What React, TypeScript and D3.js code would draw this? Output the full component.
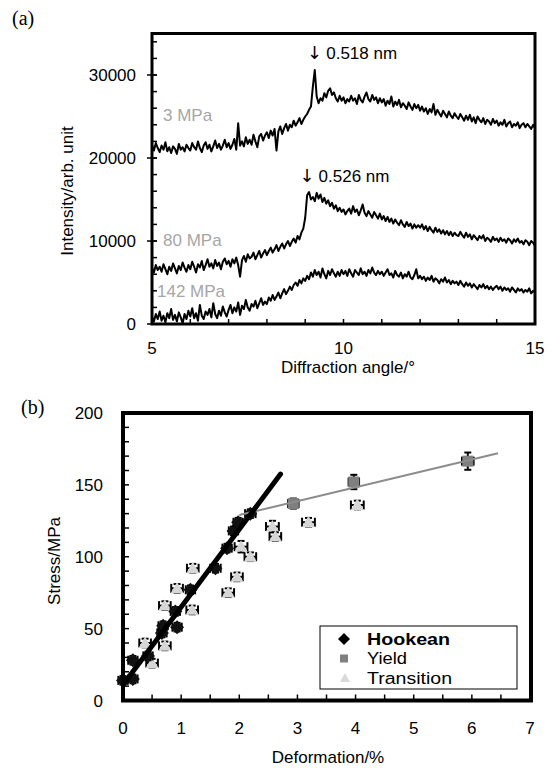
import React from 'react';
import * as d3 from 'd3';

// ---------- Panel (a): XRD spectra ----------
const angleStart = 5;
const angleStep = 0.05;

const intensity3MPa = [
  21600, 20900, 21800, 21200, 20700, 21500, 21000, 21900, 20800, 21300, 20600, 21400, 21100, 20500, 21700, 21000, 21300, 20800, 21600, 21200,
  20900, 21800, 21300, 21000, 22000, 21200, 20700, 21500, 21900, 21100, 21600, 20800, 21400, 22100, 21200, 21700, 21000, 21500, 22200, 21300,
  21800, 21100, 21600, 22300, 21000, 24200, 21500, 22000, 21400, 22500, 21700, 22200, 21600, 22800, 22000, 21300, 22600, 22900, 22100, 22700,
  23100, 22400, 23300, 22700, 23500, 20900, 23200, 23800, 22900, 23600, 24100, 23300, 24000, 23700, 24500, 23900, 24300, 24800, 24100, 24600,
  25000, 25300, 25800, 26200, 28600, 30600, 27400, 26600, 27200, 26900, 27800, 27300, 28100, 28400, 27600, 27900, 27200, 26800, 27500, 26900,
  27300, 26600, 27100, 26800, 27500, 26900, 27200, 26500, 27600, 27000, 26700, 27400, 27900, 27100, 26800, 27600, 27000, 27300, 26600, 27200,
  26700, 27100, 26300, 26900, 26500, 27400, 26200, 26800, 26400, 27000, 26100, 26600, 26300, 25900, 26700, 26200, 25800, 26500, 26000, 26400,
  25700, 26200, 25600, 26000, 25300, 25900, 25500, 26500, 25200, 25800, 25400, 25000, 25700, 25300, 24900, 25600, 25100, 24800, 25400, 25000,
  24700, 25300, 24900, 24500, 25100, 24600, 25200, 24400, 24900, 24200, 25000, 24600, 24300, 24800, 24100, 24600, 24400, 24000, 24700, 24200,
  24500, 23900, 24300, 24000, 24600, 23800, 24200, 24400, 23700, 24100, 23900, 24300, 23600, 24000, 24200, 23700, 24100, 23800, 23500, 24000, 23600,
];

const intensity80MPa = [
  6800, 6200, 7100, 6500, 6900, 6300, 7200, 6600, 6000, 6900, 6400, 7300, 6700, 6100, 7000, 6500, 7400, 6800, 6300, 7100,
  6600, 7500, 6900, 6200, 7200, 6800, 7600, 6500, 7100, 7800, 6900, 7300, 6700, 7700, 7000, 7400, 6600, 7500, 7900, 7200,
  7600, 6900, 7800, 7300, 8000, 7100, 5700, 7700, 8200, 7500, 8400, 7900, 8100, 8600, 7800, 8300, 8800, 8000, 8500, 8900,
  8300, 8800, 9200, 8600, 9000, 9500, 8800, 9300, 9700, 9100, 9600, 10000, 9400, 9900, 10300, 9800, 10600, 10200, 11000, 11500,
  12800, 15500, 15900, 15000, 15300, 14800, 15800, 15100, 15600, 14700, 15200, 14500, 14900, 14200, 14600, 13900, 14300, 13600, 14000, 13500,
  13800, 13200, 13600, 13900, 13300, 14200, 13500, 13800, 13100, 13700, 14400, 13400, 13000, 13600, 13200, 12800, 13500, 13100, 12700, 13300,
  12600, 13000, 12400, 12900, 12300, 12700, 12100, 12600, 12200, 11900, 12500, 12000, 11700, 12300, 11800, 12100, 11500, 12000, 11600, 11900,
  11600, 12000, 11400, 11800, 11200, 11700, 11300, 11000, 11600, 11100, 11400, 10900, 11300, 10800, 11200, 10700, 11100, 10600, 11000, 10700,
  10600, 11100, 10700, 10400, 11000, 10500, 10800, 10200, 10700, 10400, 10100, 10600, 10300, 10700, 10000, 10400, 10200, 9900, 10500, 10100,
  10300, 9900, 10400, 10000, 10200, 9800, 10300, 10100, 9700, 10200, 9900, 10300, 9800, 10000, 9600, 10100, 9900, 9500, 10000, 9800, 9400,
];

const intensity142MPa = [
  900, 300, 1200, 600, 1500, 400, 1000, 200, 1300, 700, 1800, 500, 1100, 300, 1400, 800, 100, 1200, 600, 1600,
  900, 1900, 700, 1300, 400, 2300, 1000, 600, 1500, 1100, 1800, 800, 2500, 1200, 700, 1600, 1000, 2100, 1400, 900,
  1700, 2300, 1300, 2000, 1500, 2600, 1100, 2200, 1800, 2900, 2000, 1600, 2400, 2100, 2800, 1900, 2500, 3100, 2300, 2700,
  2400, 3200, 2800, 3500, 2900, 3300, 3800, 3100, 3700, 4200, 3600, 4000, 4500, 4100, 4700, 5000, 4600, 5300, 4900, 5500,
  5200, 5800, 5400, 6200, 5700, 6500, 5900, 6300, 5600, 6700, 6000, 5500, 6400, 5900, 6600, 6100, 5700, 6300, 5800, 6500,
  6000, 6400, 5800, 6600, 6100, 5700, 6500, 6200, 5900, 6700, 6000, 6300, 5800, 6500, 6100, 6800, 6200, 5900, 6400, 6000,
  6300, 5800, 6200, 6600, 5900, 6100, 5600, 6400, 5900, 5700, 6200, 5500, 6000, 5700, 6300, 5600, 5400, 5900, 6600, 5500,
  5800, 5400, 5700, 5200, 5600, 5300, 5800, 5100, 5500, 5300, 4900, 5400, 5100, 5600, 5000, 5300, 4800, 5200, 4900, 5100,
  4700, 5200, 4800, 4500, 5000, 4600, 4900, 4400, 4800, 4500, 4200, 4700, 4400, 4800, 4300, 4600, 4200, 4500, 4100, 4400,
  4600, 4200, 4500, 4000, 4400, 4100, 4300, 3900, 4400, 4100, 3800, 4300, 4000, 4200, 3800, 4100, 3900, 4300, 3700, 4000, 3800,
];

const spectraLabels = ['3 MPa', '80 MPa', '142 MPa'];
const spectraLabelValues = [24500, 9400, 3300];
const peakLabels = ['0.518 nm', '0.526 nm'];
const peakLabelPos = [[9.05, 31900], [8.85, 17100]];
const xTicksA = [5, 10, 15];
const xMinorA = d3.range(5, 15.01, 1);
const yTicksA = [0, 10000, 20000, 30000];
const yMinorA = d3.range(0, 35001, 2000);

// ---------- Panel (b): stress vs deformation ----------
// [deformation %, stress MPa, x error, y error]
const hookean = [
  [0.0, 14, 0.08, 3], [0.17, 15, 0.08, 3], [0.17, 28, 0.08, 3], [0.43, 31, 0.08, 3],
  [0.67, 47, 0.08, 3], [0.69, 52, 0.08, 3], [0.93, 51, 0.08, 3], [0.9, 62, 0.08, 3],
  [1.16, 77, 0.08, 3], [1.59, 92, 0.09, 3], [1.79, 106, 0.08, 3], [1.9, 118, 0.08, 3],
  [1.98, 124, 0.08, 3], [2.19, 130, 0.09, 3],
];
const yieldPts = [
  [2.93, 137, 0.09, 3.5], [3.97, 152, 0.09, 5], [5.93, 166.5, 0.1, 6],
];
const transition = [
  [0.38, 40, 0.1, 3], [0.5, 26, 0.1, 3], [0.72, 38, 0.1, 3], [0.72, 66, 0.1, 3],
  [0.93, 78, 0.1, 3], [1.19, 63, 0.1, 3], [1.2, 92, 0.1, 3], [1.81, 75, 0.1, 3],
  [1.96, 86, 0.1, 3], [2.03, 107, 0.11, 4], [2.19, 100, 0.1, 3], [2.57, 121, 0.11, 4],
  [2.62, 114, 0.1, 3], [3.19, 124, 0.11, 3], [4.03, 136, 0.11, 3],
];
const hookeanFit = [[0.02, 12], [2.71, 157.5]];
const yieldFit = [[2.0, 129], [6.45, 172]];
const xTicksB = d3.range(0, 7.01, 1);
const xMinorB = d3.range(0, 7.01, 0.5);
const yTicksB = [0, 50, 100, 150, 200];
const yMinorB = d3.range(0, 201, 10);
const legendItems = ['Hookean', 'Yield', 'Transition'];
const legendTextWidths = [83, 40, 85];

const SANS = 'Liberation Sans, Arial, Helvetica, sans-serif';
const SERIF = 'Liberation Serif, Times New Roman, serif';

function ErrorBar({ cx, cy, x0, x1, y0, y1 }: any) {
  const c = 4.5;
  return (
    <g stroke="#000" strokeWidth={2} fill="none">
      <line x1={x0} y1={cy} x2={x1} y2={cy} />
      <line x1={x0} y1={cy - c} x2={x0} y2={cy + c} />
      <line x1={x1} y1={cy - c} x2={x1} y2={cy + c} />
      <line x1={cx} y1={y0} x2={cx} y2={y1} />
      <line x1={cx - 3.5} y1={y0} x2={cx + 3.5} y2={y0} />
      <line x1={cx - 3.5} y1={y1} x2={cx + 3.5} y2={y1} />
    </g>
  );
}

function Marker({ kind, x, y }: any) {
  if (kind === 'diamond') {
    const s = 7;
    return <path d={`M${x},${y - s}L${x + s},${y}L${x},${y + s}L${x - s},${y}Z`} fill="#111" />;
  }
  if (kind === 'square') {
    const s = 5.5;
    return <rect x={x - s} y={y - s} width={2 * s} height={2 * s} fill="#7f7f7f" />;
  }
  const s = 6.5;
  return <path d={`M${x},${y - s}L${x + s},${y + s * 0.75}L${x - s},${y + s * 0.75}Z`} fill="#d6d6d6" />;
}

export default function App() {
  // Panel (a)
  const xA = d3.scaleLinear().domain([5, 15]).range([152, 535]);
  const yA = d3.scaleLinear().domain([0, 35000]).range([324, 33.5]);
  const lineA = d3
    .line<number>()
    .x((_, i) => xA(angleStart + i * angleStep))
    .y((d) => yA(d));
  const spectra = [intensity3MPa, intensity80MPa, intensity142MPa];

  // Panel (b)
  const xB = d3.scaleLinear().domain([0, 7]).range([123, 530]);
  const yB = d3.scaleLinear().domain([0, 200]).range([700.5, 413]);
  const lineB = d3
    .line<number[]>()
    .x((d) => xB(d[0]))
    .y((d) => yB(d[1]));

  const renderPoints = (pts: number[][], kind: string) =>
    pts.map((p, i) => (
      <g key={kind + i}>
        <ErrorBar
          cx={xB(p[0])}
          cy={yB(p[1])}
          x0={xB(p[0] - p[2])}
          x1={xB(p[0] + p[2])}
          y0={yB(p[1] + p[3])}
          y1={yB(p[1] - p[3])}
        />
        <Marker kind={kind} x={xB(p[0])} y={yB(p[1])} />
      </g>
    ));

  const [ax0, ax1] = xA.range();
  const [ay0, ay1] = yA.range();
  const [bx0, bx1] = xB.range();
  const [by0, by1] = yB.range();

  return (
    <svg
      width={554}
      height={768}
      style={{ position: 'absolute', left: 0, top: 0, background: '#fff' }}
      fontFamily={SANS}
    >
      <rect width={554} height={768} fill="#fff" />
      {/* ===== Panel (a) ===== */}
      <text x={12} y={25} fontFamily={SERIF} fontSize={20}>(a)</text>
      <clipPath id="clipA">
        <rect x={ax0} y={ay1} width={ax1 - ax0} height={ay0 - ay1} />
      </clipPath>
      <g stroke="#000" strokeWidth={1.5}>
        {yMinorA.map((v) => (
          <line key={'ya' + v} x1={ax0} x2={ax0 + 5} y1={yA(v)} y2={yA(v)} />
        ))}
        {yTicksA.map((v) => (
          <line key={'yma' + v} x1={ax0 - 5} x2={ax0 + 5} y1={yA(v)} y2={yA(v)} />
        ))}
        {xMinorA.map((v) => (
          <line key={'xa' + v} x1={xA(v)} x2={xA(v)} y1={ay0} y2={ay0 - 5} />
        ))}
      </g>
      {yTicksA.map((v) => (
        <text key={'yla' + v} x={136} y={yA(v)} dy="0.36em" textAnchor="end" fontSize={17}>
          {v}
        </text>
      ))}
      {xTicksA.map((v) => (
        <text key={'xla' + v} x={xA(v)} y={354} textAnchor="middle" fontSize={17}>
          {v}
        </text>
      ))}
      <text x={348} y={373} textAnchor="middle" fontSize={17}>Diffraction angle/°</text>
      <text transform="translate(73,191) rotate(-90)" textAnchor="middle" fontSize={17}>
        Intensity/arb. unit
      </text>
      <g clipPath="url(#clipA)">
        {spectra.map((s, i) => (
          <path key={'sp' + i} d={lineA(s) || ''} fill="none" stroke="#000" strokeWidth={2} strokeLinejoin="round" />
        ))}
      </g>
      {spectraLabels.map((t, i) => (
        <text key={'sl' + i} x={i === 2 ? 157 : 163} y={yA(spectraLabelValues[i])} fontSize={17} fill="#a6a6a6">
          {t}
        </text>
      ))}
      {peakLabels.map((t, i) => (
        <text key={'pl' + i} x={xA(peakLabelPos[i][0])} y={yA(peakLabelPos[i][1])} fontSize={17}>
          <tspan fontFamily="DejaVu Sans" fontSize={18}>↓</tspan>
          <tspan dx={4}>{t}</tspan>
        </text>
      ))}
      <rect x={ax0} y={ay1} width={ax1 - ax0} height={ay0 - ay1} fill="none" stroke="#000" strokeWidth={3} />

      {/* ===== Panel (b) ===== */}
      <text x={21} y={414} fontFamily={SERIF} fontSize={20}>(b)</text>
      <g stroke="#000" strokeWidth={1.5}>
        {yMinorB.map((v) => (
          <line key={'yb' + v} x1={bx0} x2={bx0 + 6} y1={yB(v)} y2={yB(v)} />
        ))}
        {xMinorB.map((v) => (
          <line key={'xb' + v} x1={xB(v)} x2={xB(v)} y1={by0} y2={by0 - 6} />
        ))}
      </g>
      {yTicksB.map((v) => (
        <text key={'ylb' + v} x={103} y={yB(v)} dy="0.36em" textAnchor="end" fontSize={17}>
          {v}
        </text>
      ))}
      {xTicksB.map((v) => (
        <text key={'xlb' + v} x={xB(v)} y={734} textAnchor="middle" fontSize={17}>
          {v}
        </text>
      ))}
      <text x={328} y={763} textAnchor="middle" fontSize={17}>Deformation/%</text>
      <text transform="translate(60,561) rotate(-90)" textAnchor="middle" fontSize={17}>
        Stress/MPa
      </text>
      {renderPoints(transition, 'triangle')}
      {renderPoints(yieldPts, 'square')}
      {renderPoints(hookean, 'diamond')}
      <path d={lineB(yieldFit) || ''} stroke="#8c8c8c" strokeWidth={2} fill="none" />
      <path d={lineB(hookeanFit) || ''} stroke="#000" strokeWidth={5} fill="none" strokeLinecap="round" />

      {/* legend */}
      <rect x={320} y={626} width={197} height={63} fill="#fff" stroke="#000" strokeWidth={1} />
      {legendItems.map((t, i) => {
        const cy = 639 + i * 19.5;
        const kind = i === 0 ? 'diamond' : i === 1 ? 'square' : 'triangle';
        return (
          <g key={'lg' + i}>
            {kind === 'diamond' ? (
              <path d={`M344,${cy - 6}L350,${cy}L344,${cy + 6}L338,${cy}Z`} fill="#000" />
            ) : kind === 'square' ? (
              <rect x={340} y={cy - 4} width={8} height={8} fill="#7f7f7f" />
            ) : (
              <path d={`M345,${cy - 5}L350,${cy + 4}L340,${cy + 4}Z`} fill="#d9d9d9" />
            )}
            <text
              x={367}
              y={cy}
              dy="0.36em"
              fontSize={16}
              fontWeight={i === 0 ? 'bold' : 'normal'}
              textLength={legendTextWidths[i]}
              lengthAdjust="spacingAndGlyphs"
            >
              {t}
            </text>
          </g>
        );
      })}
      <rect x={bx0} y={by1} width={bx1 - bx0 + 1} height={by0 - by1} fill="none" stroke="#000" strokeWidth={4} />
    </svg>
  );
}
